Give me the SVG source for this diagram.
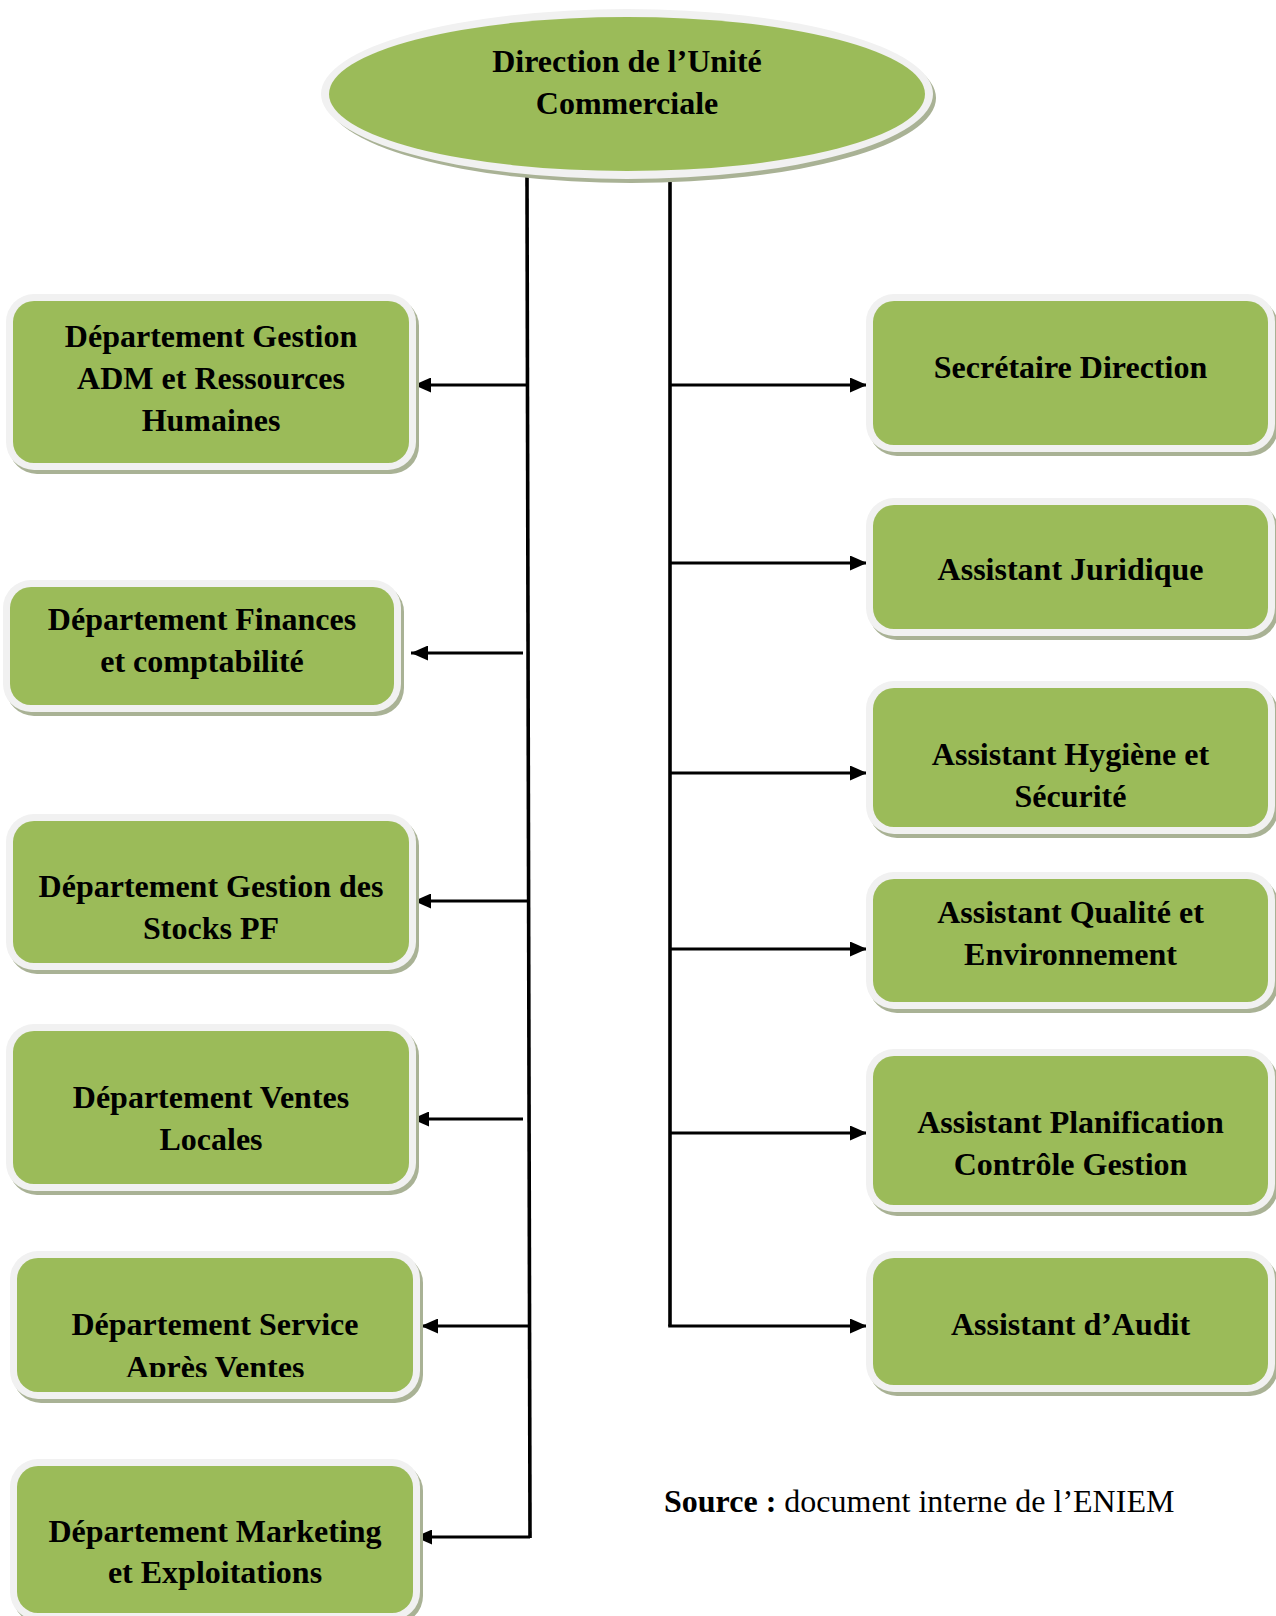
<svg xmlns="http://www.w3.org/2000/svg" width="1276" height="1616" viewBox="0 0 1276 1616">
  <defs>
    <style>
      .shadow { fill: #a9b295; }
      .frame { fill: #f1f1f1; }
      .body { fill: #9bbb59; }
      .label { font-family: "Liberation Serif", "Times New Roman", serif; font-weight: bold; font-size: 32px; fill: #000; text-anchor: middle; }
      .src { font-family: "Liberation Serif", "Times New Roman", serif; font-size: 32px; fill: #000; }
      .wire { stroke: #000; stroke-width: 3.6; fill: none; }
      .arrow { stroke: #000; stroke-width: 3; fill: none; marker-end: url(#head); }
    </style>
    <marker id="head" viewBox="0 0 17 15" markerWidth="17" markerHeight="15" refX="17" refY="7.5" markerUnits="userSpaceOnUse" orient="auto">
      <path d="M0,0 L17,7.5 L0,15 Z" fill="#000"/>
    </marker>
    <clipPath id="clipL5">
      <rect x="17" y="1258" width="396" height="119"/>
    </clipPath>
  </defs>

  <rect width="1276" height="1616" fill="#fff"/>

  <!-- Connectors -->
  <g id="connectors">
    <path class="wire" d="M527,177 L530,1538"/>
    <path class="wire" d="M670,177 L670,1326"/>
    <line class="arrow" x1="527" y1="385" x2="414" y2="385"/>
    <line class="arrow" x1="523" y1="653" x2="411" y2="653"/>
    <line class="arrow" x1="528" y1="901" x2="414" y2="901"/>
    <line class="arrow" x1="523" y1="1119" x2="412" y2="1119"/>
    <line class="arrow" x1="529" y1="1326" x2="421" y2="1326"/>
    <line class="arrow" x1="530" y1="1537" x2="415" y2="1537"/>
    <line class="arrow" x1="670" y1="385" x2="867" y2="385"/>
    <line class="arrow" x1="670" y1="563" x2="867" y2="563"/>
    <line class="arrow" x1="670" y1="773" x2="867" y2="773"/>
    <line class="arrow" x1="670" y1="949" x2="867" y2="949"/>
    <line class="arrow" x1="670" y1="1133" x2="867" y2="1133"/>
    <line class="arrow" x1="668.2" y1="1326" x2="867" y2="1326"/>
  </g>

  <!-- Top node -->
  <g id="direction">
    <ellipse class="shadow" cx="631" cy="98" rx="305" ry="85"/>
    <ellipse class="frame" cx="627" cy="94" rx="306" ry="85"/>
    <ellipse class="body" cx="627" cy="94" rx="298" ry="77"/>
    <text class="label" x="627" y="72">Direction de l’Unité</text>
    <text class="label" x="627" y="114">Commerciale</text>
  </g>

  <!-- Left column -->
  <g id="dep-grh">
    <rect class="shadow" x="9" y="298" width="410" height="176" rx="28"/>
    <rect class="frame" x="6" y="294" width="410" height="176" rx="28"/>
    <rect class="body" x="13" y="301" width="396" height="162" rx="21"/>
    <text class="label" x="211" y="347">Département Gestion</text>
    <text class="label" x="211" y="389">ADM et Ressources</text>
    <text class="label" x="211" y="431">Humaines</text>
  </g>

  <g id="dep-finances">
    <rect class="shadow" x="6" y="584" width="398" height="132" rx="28"/>
    <rect class="frame" x="3" y="580" width="398" height="132" rx="28"/>
    <rect class="body" x="10" y="587" width="384" height="118" rx="21"/>
    <text class="label" x="202" y="630">Département Finances</text>
    <text class="label" x="202" y="672">et comptabilité</text>
  </g>

  <g id="dep-stocks">
    <rect class="shadow" x="9" y="818" width="410" height="156" rx="28"/>
    <rect class="frame" x="6" y="814" width="410" height="156" rx="28"/>
    <rect class="body" x="13" y="821" width="396" height="142" rx="21"/>
    <text class="label" x="211" y="897">Département Gestion des</text>
    <text class="label" x="211" y="939">Stocks PF</text>
  </g>

  <g id="dep-ventes">
    <rect class="shadow" x="9" y="1028" width="410" height="167" rx="28"/>
    <rect class="frame" x="6" y="1024" width="410" height="167" rx="28"/>
    <rect class="body" x="13" y="1031" width="396" height="153" rx="21"/>
    <text class="label" x="211" y="1108">Département Ventes</text>
    <text class="label" x="211" y="1150">Locales</text>
  </g>

  <g id="dep-sav">
    <rect class="shadow" x="13" y="1255" width="410" height="148" rx="28"/>
    <rect class="frame" x="10" y="1251" width="410" height="148" rx="28"/>
    <rect class="body" x="17" y="1258" width="396" height="134" rx="21"/>
    <text class="label" x="215" y="1335">Département Service</text>
    <text class="label" x="215" y="1378" clip-path="url(#clipL5)">Après Ventes</text>
  </g>

  <g id="dep-marketing">
    <rect class="shadow" x="13" y="1463" width="410" height="161" rx="28"/>
    <rect class="frame" x="10" y="1459" width="410" height="161" rx="28"/>
    <rect class="body" x="17" y="1466" width="396" height="147" rx="21"/>
    <text class="label" x="215" y="1542">Département Marketing</text>
    <text class="label" x="215" y="1583">et Exploitations</text>
  </g>

  <!-- Right column -->
  <g id="secretaire">
    <rect class="shadow" x="869" y="298" width="409" height="158" rx="28"/>
    <rect class="frame" x="866" y="294" width="409" height="158" rx="28"/>
    <rect class="body" x="873" y="301" width="395" height="144" rx="21"/>
    <text class="label" x="1070.5" y="378">Secrétaire Direction</text>
  </g>

  <g id="juridique">
    <rect class="shadow" x="869" y="502" width="409" height="138" rx="28"/>
    <rect class="frame" x="866" y="498" width="409" height="138" rx="28"/>
    <rect class="body" x="873" y="505" width="395" height="124" rx="21"/>
    <text class="label" x="1070.5" y="580">Assistant Juridique</text>
  </g>

  <g id="hygiene">
    <rect class="shadow" x="869" y="685" width="409" height="153" rx="28"/>
    <rect class="frame" x="866" y="681" width="409" height="153" rx="28"/>
    <rect class="body" x="873" y="688" width="395" height="139" rx="21"/>
    <text class="label" x="1070.5" y="765">Assistant Hygiène et</text>
    <text class="label" x="1070.5" y="807">Sécurité</text>
  </g>

  <g id="qualite">
    <rect class="shadow" x="869" y="876" width="409" height="137" rx="28"/>
    <rect class="frame" x="866" y="872" width="409" height="137" rx="28"/>
    <rect class="body" x="873" y="879" width="395" height="123" rx="21"/>
    <text class="label" x="1070.5" y="923">Assistant Qualité et</text>
    <text class="label" x="1070.5" y="965">Environnement</text>
  </g>

  <g id="planification">
    <rect class="shadow" x="869" y="1053" width="409" height="163" rx="28"/>
    <rect class="frame" x="866" y="1049" width="409" height="163" rx="28"/>
    <rect class="body" x="873" y="1056" width="395" height="149" rx="21"/>
    <text class="label" x="1070.5" y="1133">Assistant Planification</text>
    <text class="label" x="1070.5" y="1175">Contrôle Gestion</text>
  </g>

  <g id="audit">
    <rect class="shadow" x="869" y="1255" width="409" height="141" rx="28"/>
    <rect class="frame" x="866" y="1251" width="409" height="141" rx="28"/>
    <rect class="body" x="873" y="1258" width="395" height="127" rx="21"/>
    <text class="label" x="1070.5" y="1335">Assistant d’Audit</text>
  </g>

  <!-- Source note -->
  <text class="src" x="664" y="1512"><tspan font-weight="bold">Source :</tspan> document interne de l’ENIEM</text>
</svg>
